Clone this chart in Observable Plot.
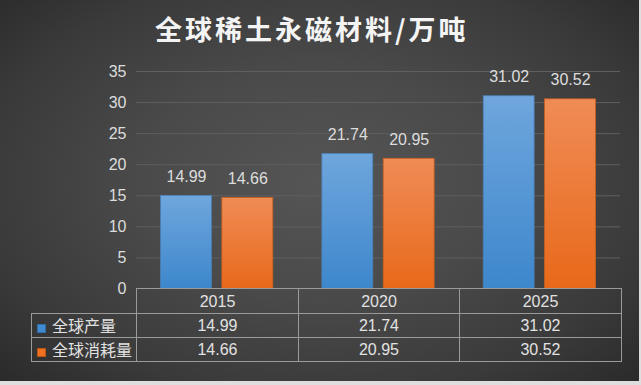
<!DOCTYPE html>
<html>
<head>
<meta charset="utf-8">
<script src="https://cdn.jsdelivr.net/npm/d3@7"></script>
<script src="https://cdn.jsdelivr.net/npm/@observablehq/plot@0.6"></script>
<style>
  html, body { margin: 0; padding: 0; background: #dedede; }
  #chart {
    position: relative; width: 639px; height: 381px; overflow: hidden;
    background: radial-gradient(ellipse 70% 75% at 50% 48%, #555555 0%, #4a4a4a 40%, #3a3a3a 75%, #2a2a2a 100%);
    font-family: "Liberation Sans", Arial, "Noto Sans CJK SC", sans-serif;
  }
  #title {
    position: absolute; left: 155px; top: 15px; margin: 0;
    font-family: "Noto Sans CJK SC", sans-serif; font-weight: 700;
    font-size: 27px; line-height: 27px; letter-spacing: 3px; color: #f4f4f4; white-space: nowrap;
  }
  #plot { position: absolute; left: 0; top: 0; }
  #tbl {
    position: absolute; left: 31px; top: 288px;
    border-collapse: collapse; table-layout: fixed;
    color: #e2e2e2; font-size: 16px;
  }
  #tbl td { border: 1.5px solid #9a9a9a; text-align: center; padding: 0; height: 23px; line-height: 23px; }
  #tbl tr.hdr td { height: 24px; }
  #tbl td.blank { border-top: none; border-left: none; }
  #tbl td.leg { text-align: left; padding-left: 5px; font-family: "Noto Sans CJK SC", sans-serif; white-space: nowrap; }
  .sw { display: inline-block; width: 9px; height: 9px; margin-right: 6px; vertical-align: -1px; box-sizing: border-box; }
</style>
</head>
<body>
<div id="chart">
  <div id="plot"></div>
  <div id="title"></div>
  <table id="tbl"></table>
</div>
<script>
const title = "全球稀土永磁材料/万吨";
const years = ["2015", "2020", "2025"];
const seriesNames = ["全球产量", "全球消耗量"];
const production = [14.99, 21.74, 31.02];
const consumption = [14.66, 20.95, 30.52];
const yTicks = [0, 5, 10, 15, 20, 25, 30, 35];
const seriesColors = ["#3f8ad2", "#ee7020"];

const data = years.flatMap((yr, i) => [
  {year: yr, series: seriesNames[0], value: production[i]},
  {year: yr, series: seriesNames[1], value: consumption[i]}
]);

document.getElementById("title").textContent = title;

const plot = Plot.plot({
  width: 639,
  height: 381,
  marginTop: 71,
  marginBottom: 92.5,
  marginLeft: 136,
  marginRight: 19,
  style: {background: "transparent", color: "#dddddd", fontSize: "16px",
          fontFamily: "'Liberation Sans', Arial, sans-serif", overflow: "visible"},
  fx: {domain: years, padding: 0, axis: null, round: false},
  x: {domain: seriesNames, paddingInner: 0.17, paddingOuter: 0.4, axis: null, round: false},
  y: {domain: [0, 35], ticks: yTicks, tickSize: 0, tickPadding: 10, label: null},
  marks: [
    Plot.ruleY(yTicks.filter(t => t > 0), {stroke: "#5f5f5f", strokeWidth: 1}),
    Plot.barY(data.filter(d => d.series === seriesNames[0]),
      {fx: "year", x: "series", y: "value", fill: "url(#gradBlue)", stroke: "#4a7fb4", strokeWidth: 0.8}),
    Plot.barY(data.filter(d => d.series === seriesNames[1]),
      {fx: "year", x: "series", y: "value", fill: "url(#gradOrange)", stroke: "#c8601f", strokeWidth: 0.8}),
    Plot.text(data, {fx: "year", x: "series", y: "value", text: d => d.value.toFixed(2),
      dy: -19, fill: "#dddddd", fontSize: 16})
  ]
});

const svg = d3.select(plot);
const defs = svg.insert("defs", ":first-child");
const g1 = defs.append("linearGradient").attr("id", "gradBlue").attr("x1", 0).attr("y1", 0).attr("x2", 0).attr("y2", 1);
g1.append("stop").attr("offset", "0%").attr("stop-color", "#6fa6dd");
g1.append("stop").attr("offset", "100%").attr("stop-color", "#3d87cc");
const g2 = defs.append("linearGradient").attr("id", "gradOrange").attr("x1", 0).attr("y1", 0).attr("x2", 0).attr("y2", 1);
g2.append("stop").attr("offset", "0%").attr("stop-color", "#f08c56");
g2.append("stop").attr("offset", "100%").attr("stop-color", "#e8691a");
document.getElementById("plot").appendChild(plot);

// data table below the chart
const tbl = d3.select("#tbl");
const cg = tbl.append("colgroup");
cg.append("col").style("width", "105px");
cg.append("col").style("width", "162px");
cg.append("col").style("width", "161px");
cg.append("col").style("width", "162px");
const hdr = tbl.append("tr").attr("class", "hdr");
hdr.append("td").attr("class", "blank");
years.forEach(y => hdr.append("td").text(y));
[production, consumption].forEach((vals, si) => {
  const tr = tbl.append("tr");
  const leg = tr.append("td").attr("class", "leg");
  leg.append("span").attr("class", "sw").style("background", seriesColors[si])
     .style("border", "1px solid " + (si === 0 ? "#2f6da8" : "#b85414"));
  leg.append("span").text(seriesNames[si]);
  vals.forEach(v => tr.append("td").text(v.toFixed(2)));
});
</script>
</body>
</html>
